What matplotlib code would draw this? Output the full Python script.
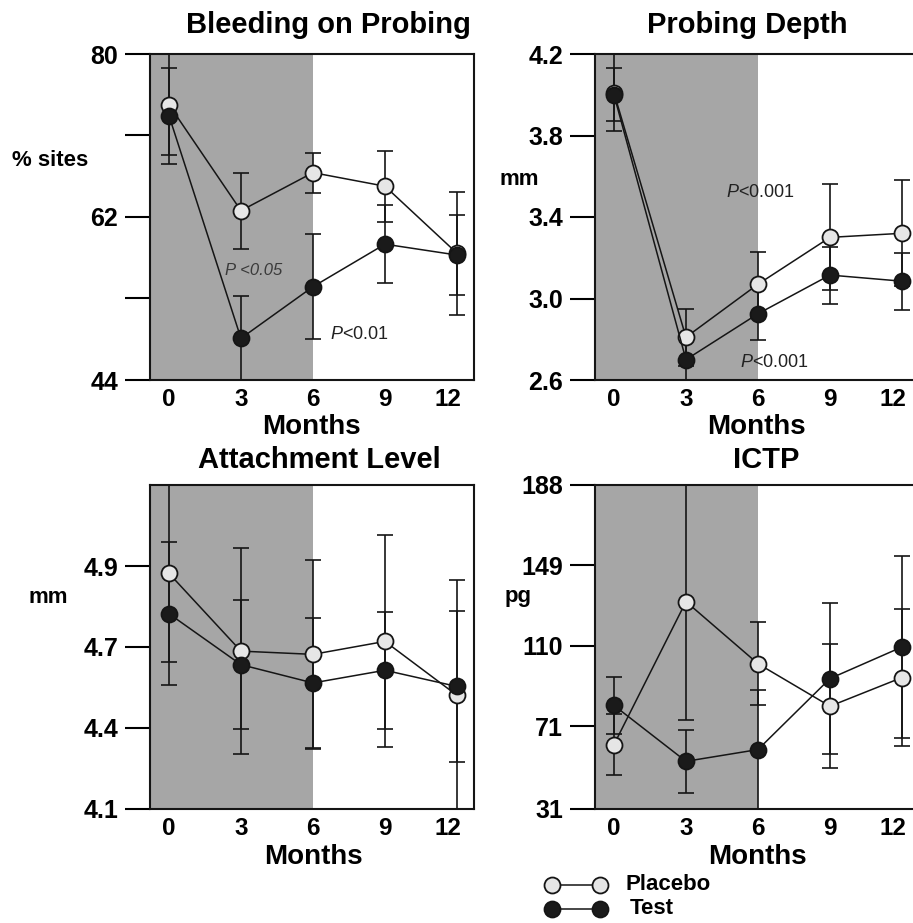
import matplotlib
matplotlib.use('Agg')
import matplotlib.pyplot as plt
import matplotlib.transforms as mtransforms
from matplotlib.lines import Line2D

plt.rcParams['font.family'] = 'Liberation Sans'
plt.rcParams['font.weight'] = 'bold'
plt.rcParams['mathtext.fontset'] = 'custom'
plt.rcParams['mathtext.it'] = 'Liberation Sans:style=italic:weight=normal'
plt.rcParams['mathtext.rm'] = 'Liberation Sans:weight=normal'

months = [0, 3, 6, 9, 12]

# Bleeding on probing (% sites)
bop_placebo = [74.4, 62.7, 66.9, 65.4, 58.0]
bop_placebo_err = [5.6, 4.2, 2.2, 3.9, 6.8]
bop_test = [73.2, 48.6, 54.3, 59.0, 57.8]
bop_test_err = [5.3, 4.7, 5.8, 4.3, 4.4]

# Probing depth (mm)
pd_placebo = [4.01, 2.81, 3.07, 3.30, 3.32]
pd_placebo_err = [0.19, 0.14, 0.16, 0.26, 0.26]
pd_test = [4.00, 2.70, 2.925, 3.115, 3.085]
pd_test_err = [0.13, 0.10, 0.13, 0.14, 0.14]

# Attachment level (mm)
al_placebo = [4.90, 4.636, 4.625, 4.669, 4.486]
al_placebo_err = [0.30, 0.35, 0.32, 0.36, 0.39]
al_test = [4.763, 4.59, 4.528, 4.571, 4.516]
al_test_err = [0.243, 0.22, 0.222, 0.198, 0.255]

# ICTP (pg)
ictp_placebo = [62.2, 131.5, 101.4, 80.8, 94.7]
ictp_placebo_err = [14.7, 57.2, 20.2, 30.0, 33.4]
ictp_test = [81.2, 54.1, 59.8, 94.2, 109.5]
ictp_test_err = [14.0, 15.3, 29.0, 36.4, 44.0]

W, H = 913, 923
fig = plt.figure(figsize=(W / 100, H / 100), dpi=100)


def fx(px):
    return px / W


def fy(py):
    return 1 - py / H


def panel(left, top, bottom, ylim, yticks, ylabels, plac, plac_err, test, test_err):
    ax = fig.add_axes([fx(left), fy(bottom), 324 / W, (bottom - top) / H])
    ax.set_xlim(-0.79, 12.71)
    ax.set_ylim(*ylim)
    ax.axvspan(-0.79, 6, color='#a6a6a6', lw=0, zorder=0)
    for vals, errs in [(plac, plac_err), (test, test_err)]:
        ax.errorbar(months, vals, yerr=errs, fmt='none', ecolor='#151515',
                    elinewidth=1.2, capsize=5.5, capthick=1.2, zorder=2)
    ax.plot(months, plac, '-o', color='#151515', lw=1.1, ms=11.5,
            mfc='#e6e6e6', mec='#151515', mew=1.3, zorder=3)
    ax.plot(months, test, '-o', color='#151515', lw=1.1, ms=11.5,
            mfc='#1a1a1a', mec='#151515', mew=1.3, zorder=4)
    ax.set_xticks(months)
    ax.set_xticklabels([str(m) for m in months])
    ax.tick_params(axis='x', length=0, pad=6, labelsize=17.5)
    # the last month label sits a little to the left in the original
    shift = mtransforms.ScaledTranslation(-9 / 100, 0, fig.dpi_scale_trans)
    last = ax.get_xticklabels()[-1]
    last.set_transform(last.get_transform() + shift)
    ax.set_yticks(yticks)
    ax.set_yticklabels(ylabels)
    ax.tick_params(axis='y', length=18, width=1.5, direction='out', pad=5,
                   labelsize=18)
    for s in ax.spines.values():
        s.set_linewidth(1.5)
        s.set_color('#151515')
    return ax


ax1 = panel(150, 54, 380, (44, 80), [44, 53, 62, 71, 80],
            ['44', '', '62', '', '80'],
            bop_placebo, bop_placebo_err, bop_test, bop_test_err)
ax2 = panel(595, 54, 380, (2.6, 4.2), [2.6, 3.0, 3.4, 3.8, 4.2],
            ['2.6', '3.0', '3.4', '3.8', '4.2'],
            pd_placebo, pd_placebo_err, pd_test, pd_test_err)
ax3 = panel(150, 485, 809, (4.1, 5.2), [4.1, 4.375, 4.65, 4.925],
            ['4.1', '4.4', '4.7', '4.9'],
            al_placebo, al_placebo_err, al_test, al_test_err)
ax4 = panel(595, 485, 809, (31, 188), [31, 71, 110, 149, 188],
            ['31', '71', '110', '149', '188'],
            ictp_placebo, ictp_placebo_err, ictp_test, ictp_test_err)

# p-value notes
ax1.text(2.33, 56.1, 'P <0.05', style='italic', fontweight='normal',
         fontsize=12, color='#3a3a3a', va='center')
ax1.text(6.71, 49.0, r'$P$<0.01', fontweight='normal', fontsize=13,
         color='#222222', va='center')
ax2.text(4.67, 3.518, r'$P$<0.001', fontweight='normal', fontsize=13,
         color='#222222', va='center')
ax2.text(5.25, 2.688, r'$P$<0.001', fontweight='normal', fontsize=13,
         color='#222222', va='center')

# titles
fig.text(fx(328), fy(33), 'Bleeding on Probing', ha='center', va='baseline', fontsize=21)
fig.text(fx(747), fy(33), 'Probing Depth', ha='center', va='baseline', fontsize=21)
fig.text(fx(319), fy(468), 'Attachment Level', ha='center', va='baseline', fontsize=21)
fig.text(fx(766), fy(468), 'ICTP', ha='center', va='baseline', fontsize=21)

# x labels
for xc, yb in [(311, 434), (756, 434), (313, 864), (757, 864)]:
    fig.text(fx(xc), fy(yb), 'Months', ha='center', va='baseline', fontsize=20)

# y labels
fig.text(fx(12), fy(166), '% sites', ha='left', va='baseline', fontsize=16)
fig.text(fx(499), fy(185), 'mm', ha='left', va='baseline', fontsize=16)
fig.text(fx(28), fy(603), 'mm', ha='left', va='baseline', fontsize=16)
fig.text(fx(505), fy(602), 'pg', ha='left', va='baseline', fontsize=16)

# legend
fig.add_artist(Line2D([fx(552), fx(600)], [fy(885), fy(885)], transform=fig.transFigure,
                      color='#151515', lw=1.1, marker='o', ms=11.5, mfc='#e6e6e6',
                      mec='#151515', mew=1.3))
fig.add_artist(Line2D([fx(552), fx(600)], [fy(909), fy(909)], transform=fig.transFigure,
                      color='#151515', lw=1.1, marker='o', ms=11.5, mfc='#1a1a1a',
                      mec='#151515', mew=1.3))
fig.text(fx(625), fy(885), 'Placebo', ha='left', va='center', fontsize=16)
fig.text(fx(630), fy(909), 'Test', ha='left', va='center', fontsize=16)

fig.savefig('out.png', dpi=100)
